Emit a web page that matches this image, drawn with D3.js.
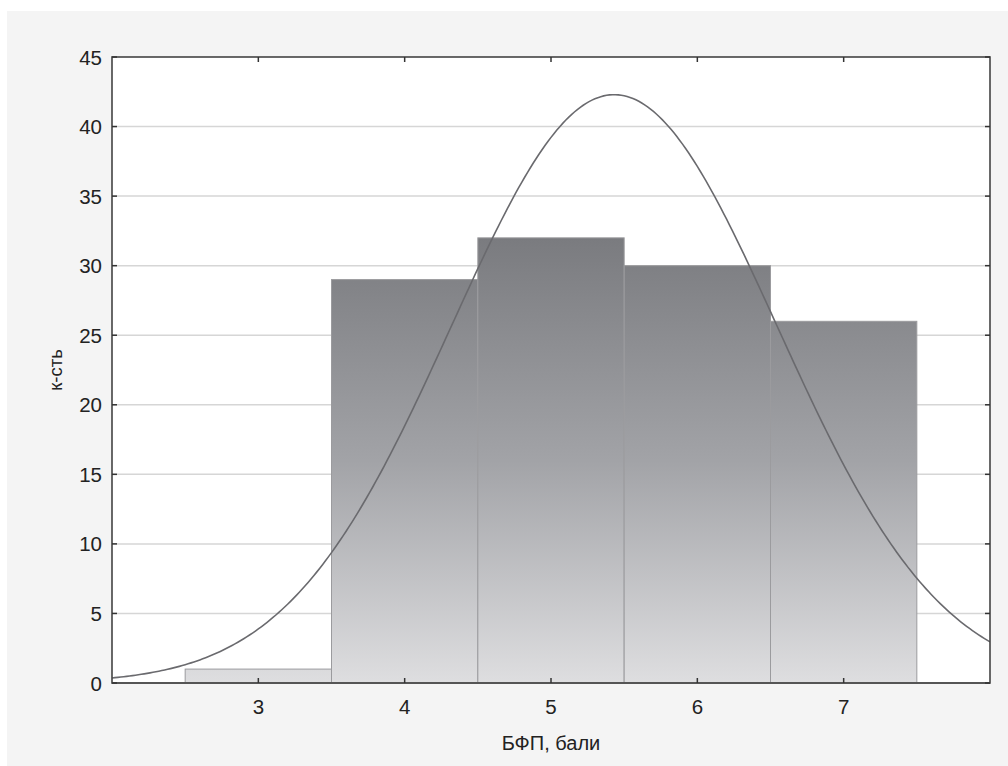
<!DOCTYPE html>
<html>
<head>
<meta charset="utf-8">
<script src="https://cdn.jsdelivr.net/npm/d3@7/dist/d3.min.js"></script>
<style>
  body { margin: 0; background: #fff; }
  svg { display: block; font-family: "Liberation Sans", Arial, sans-serif; }
</style>
</head>
<body>
<svg id="chart" width="1008" height="766"></svg>
<script>
// histogram bins (score classes) and counts
var binCenters = [3, 4, 5, 6, 7];
var counts = [1, 29, 32, 30, 26];
var binWidth = 1;

var xTicks = [3, 4, 5, 6, 7];
var yTicks = [0, 5, 10, 15, 20, 25, 30, 35, 40, 45];
var gridTicks = [5, 10, 15, 20, 25, 30, 35, 40];

var xTitle = 'БФП, бали',
    yTitle = 'к-сть';

var _left = 112, _right = 990, _top = 57, _bottom = 683;

var svg = d3.select('#chart');

// grey panel
svg.append('rect')
    .attr('x', 7).attr('y', 11)
    .attr('width', 1001).attr('height', 755)
    .attr('fill', '#f4f4f4');

var x = d3.scaleLinear().domain([2, 8]).range([_left, _right]);
var y = d3.scaleLinear().domain([0, 45]).range([_bottom, _top]);

svg.append('rect')
    .attr('x', _left).attr('y', _top)
    .attr('width', _right - _left).attr('height', _bottom - _top)
    .attr('fill', '#fff');

var defs = svg.append('defs');
var grad = defs.append('linearGradient')
    .attr('id', 'barGrad')
    .attr('gradientUnits', 'userSpaceOnUse')
    .attr('x1', 0).attr('x2', 0)
    .attr('y1', y(32)).attr('y2', y(0));
grad.append('stop').attr('offset', 0).attr('stop-color', '#7a7b7f');
grad.append('stop').attr('offset', 0.5).attr('stop-color', '#a2a3a7');
grad.append('stop').attr('offset', 1).attr('stop-color', '#dedee0');

defs.append('clipPath').attr('id', 'plotClip')
    .append('rect')
    .attr('x', _left).attr('y', _top)
    .attr('width', _right - _left).attr('height', _bottom - _top);

// gridlines
svg.append('g').selectAll('line').data(gridTicks).enter().append('line')
    .attr('x1', _left).attr('x2', _right)
    .attr('y1', function(d){ return y(d); })
    .attr('y2', function(d){ return y(d); })
    .attr('stroke', '#d6d6d6')
    .attr('stroke-width', 1.5);

// bars
svg.append('g').selectAll('rect').data(counts).enter().append('rect')
    .attr('x', function(d, i){ return x(binCenters[i] - binWidth / 2); })
    .attr('width', function(d, i){ return x(binCenters[i] + binWidth / 2) - x(binCenters[i] - binWidth / 2); })
    .attr('y', function(d){ return y(d); })
    .attr('height', function(d){ return y(0) - y(d); })
    .attr('fill', 'url(#barGrad)')
    .attr('stroke', '#9b9b9e')
    .attr('stroke-width', 1);

// fitted normal curve from the histogram
var n = d3.sum(counts);
var mean = d3.sum(counts, function(d, i){ return d * binCenters[i]; }) / n;
var sd = Math.sqrt(d3.sum(counts, function(d, i){
    return d * Math.pow(binCenters[i] - mean, 2);
}) / (n - 1));

var curvePts = d3.range(2, 8.001, 0.02).map(function(v){
    var z = (v - mean) / sd;
    return [v, n * binWidth / (sd * Math.sqrt(2 * Math.PI)) * Math.exp(-z * z / 2)];
});

svg.append('path')
    .datum(curvePts)
    .attr('clip-path', 'url(#plotClip)')
    .attr('fill', 'none')
    .attr('stroke', '#6a6a6e')
    .attr('stroke-width', 1.6)
    .attr('d', d3.line()
        .x(function(d){ return x(d[0]); })
        .y(function(d){ return y(d[1]); }));

// frame
svg.append('rect')
    .attr('x', _left).attr('y', _top)
    .attr('width', _right - _left).attr('height', _bottom - _top)
    .attr('fill', 'none')
    .attr('stroke', '#444')
    .attr('stroke-width', 1.6);
svg.append('line')
    .attr('x1', _left).attr('x2', _right)
    .attr('y1', _bottom).attr('y2', _bottom)
    .attr('stroke', '#555').attr('stroke-width', 2.2);

// inward ticks on all sides
var tk = 5;
var ticks = svg.append('g').attr('stroke', '#333').attr('stroke-width', 1.5);
xTicks.forEach(function(t){
    ticks.append('line').attr('x1', x(t)).attr('x2', x(t)).attr('y1', _bottom).attr('y2', _bottom - tk);
    ticks.append('line').attr('x1', x(t)).attr('x2', x(t)).attr('y1', _top).attr('y2', _top + tk);
});
yTicks.forEach(function(t){
    ticks.append('line').attr('x1', _left).attr('x2', _left + tk).attr('y1', y(t)).attr('y2', y(t));
    ticks.append('line').attr('x1', _right).attr('x2', _right - tk).attr('y1', y(t)).attr('y2', y(t));
});

// tick labels
svg.append('g').selectAll('text').data(xTicks).enter().append('text')
    .attr('x', function(d){ return x(d); })
    .attr('y', 714)
    .attr('text-anchor', 'middle')
    .attr('font-size', 20.5)
    .attr('fill', '#222')
    .text(function(d){ return d; });

svg.append('g').selectAll('text').data(yTicks).enter().append('text')
    .attr('x', 102)
    .attr('y', function(d){ return y(d) + 7.5; })
    .attr('text-anchor', 'end')
    .attr('font-size', 20.5)
    .attr('fill', '#222')
    .text(function(d){ return d; });

// axis titles
svg.append('text')
    .attr('x', (_left + _right) / 2)
    .attr('y', 750)
    .attr('text-anchor', 'middle')
    .attr('font-size', 20)
    .attr('fill', '#222')
    .text(xTitle);

svg.append('text')
    .attr('transform', 'translate(62,370) rotate(-90)')
    .attr('text-anchor', 'middle')
    .attr('font-size', 18.5)
    .attr('fill', '#222')
    .text(yTitle);
</script>
</body>
</html>
